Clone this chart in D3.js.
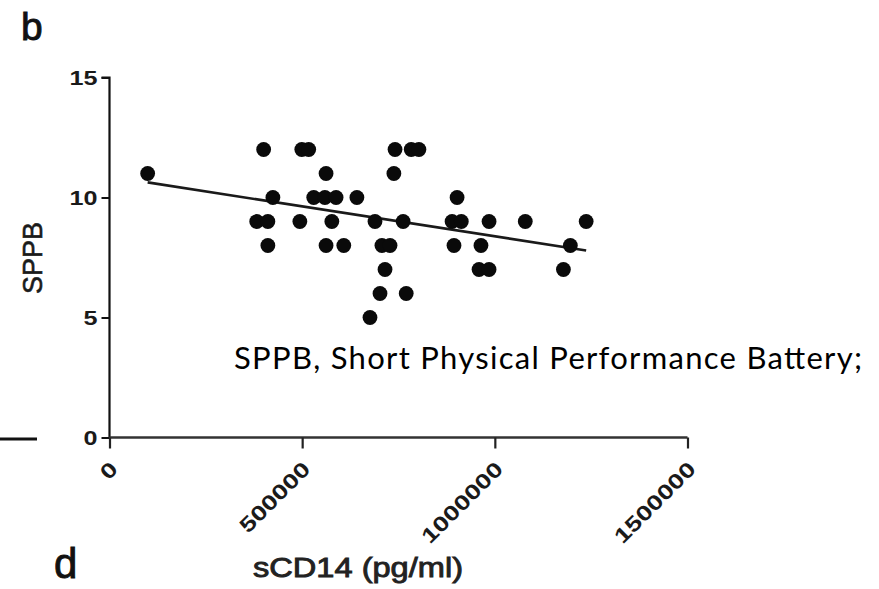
<!DOCTYPE html>
<html>
<head>
<meta charset="utf-8">
<script src="https://cdn.jsdelivr.net/npm/d3@7/dist/d3.min.js"></script>
<style>
  html, body { margin: 0; padding: 0; background: #fff; }
  svg { display: block; }
</style>
</head>
<body>
<svg id="chart" width="879" height="589"></svg>
<script>
// sCD14 concentration (pg/ml) and SPPB score for each participant
const sCD14 = [99000, 400000, 499000, 517000, 741000, 783000, 803000, 562000, 738000,
  424000, 530000, 559000, 588000, 642000, 902000,
  382000, 411000, 494000, 577000, 689000, 762000, 889000, 913000, 985000, 1079000, 1237000,
  411000, 562000, 608000, 707000, 728000, 894000, 964000, 1196000,
  715000, 959000, 985000, 1178000,
  702000, 770000,
  676000];
const sppb = [11, 12, 12, 12, 12, 12, 12, 11, 11,
  10, 10, 10, 10, 10, 10,
  9, 9, 9, 9, 9, 9, 9, 9, 9, 9, 9,
  8, 8, 8, 8, 8, 8, 8, 8,
  7, 7, 7, 7,
  6, 6,
  5];
const xTicks = [0, 500000, 1000000, 1500000];
const yTicks = [0, 5, 10, 15];

const svg = d3.select("#chart");
const sansFont = "'Liberation Sans', Arial, Helvetica, sans-serif";

const x = d3.scaleLinear().domain([0, 1500000]).range([109.5, 687.5]);
const y = d3.scaleLinear().domain([0, 15]).range([437.5, 77.5]);

// fragment of the neighbouring panel's axis
svg.append("line")
  .attr("x1", 0).attr("x2", 37).attr("y1", 439).attr("y2", 439)
  .attr("stroke", "#111").attr("stroke-width", 3);

// panel letters
svg.append("text").attr("x", 21).attr("y", 40).text("b")
  .attr("font-family", sansFont).attr("font-size", 39)
  .attr("fill", "#111").attr("stroke", "#111").attr("stroke-width", 0.9);
svg.append("text").attr("x", 54).attr("y", 578).text("d")
  .attr("font-family", sansFont).attr("font-size", 42)
  .attr("fill", "#111").attr("stroke", "#111").attr("stroke-width", 0.9);

// y axis
const yAxis = svg.append("g")
  .attr("transform", `translate(${x(0)},0)`)
  .call(d3.axisLeft(y).tickValues(yTicks).tickSize(8).tickPadding(4).tickFormat(d3.format("d")));
yAxis.select(".domain").attr("stroke", "#111").attr("stroke-width", 2.2)
  .attr("d", `M-8,${y(15)}H0V${y(0)}`);
yAxis.selectAll(".tick line").attr("stroke", "#111").attr("stroke-width", 2);
yAxis.selectAll(".tick text")
  .attr("font-family", sansFont).attr("font-size", 21).attr("font-weight", "bold")
  .attr("fill", "#1a1a1a")
  .attr("textLength", d => String(d).length * 14)
  .attr("lengthAdjust", "spacingAndGlyphs");

// x axis
const xAxis = svg.append("g")
  .attr("transform", `translate(0,${y(0)})`)
  .call(d3.axisBottom(x).tickValues(xTicks).tickSize(11).tickFormat(d3.format("d")));
xAxis.select(".domain").attr("stroke", "#333").attr("stroke-width", 2.6)
  .attr("d", `M${x(0)},0H${x(1500000)}`);
xAxis.selectAll(".tick line").attr("stroke", "#222").attr("stroke-width", 2.2);
xAxis.selectAll(".tick text")
  .attr("font-family", sansFont).attr("font-size", 21).attr("font-weight", "bold")
  .attr("fill", "#1a1a1a")
  .attr("text-anchor", "end")
  .attr("y", 0).attr("dy", 0)
  .attr("transform", "translate(9,33) rotate(-45)")
  .attr("textLength", d => String(d).length * 15)
  .attr("lengthAdjust", "spacingAndGlyphs");

// axis titles
svg.append("text")
  .attr("transform", "translate(42,258) rotate(-90)")
  .attr("text-anchor", "middle")
  .attr("font-family", sansFont).attr("font-size", 27)
  .attr("fill", "#1a1a1a").attr("stroke", "#1a1a1a").attr("stroke-width", 0.6)
  .text("SPPB");
svg.append("text")
  .attr("x", 253).attr("y", 577)
  .attr("font-family", sansFont).attr("font-size", 28)
  .attr("fill", "#222").attr("stroke", "#222").attr("stroke-width", 0.9)
  .attr("textLength", 210).attr("lengthAdjust", "spacingAndGlyphs")
  .text("sCD14 (pg/ml)");

// least-squares fit line over the observed sCD14 range
const n = sCD14.length;
const mx = d3.mean(sCD14), my = d3.mean(sppb);
let sxy = 0, sxx = 0;
for (let i = 0; i < n; i++) {
  sxy += (sCD14[i] - mx) * (sppb[i] - my);
  sxx += (sCD14[i] - mx) ** 2;
}
const slope = sxy / sxx;
const intercept = my - slope * mx;
const [xmin, xmax] = d3.extent(sCD14);
svg.append("line")
  .attr("x1", x(xmin)).attr("y1", y(intercept + slope * xmin))
  .attr("x2", x(xmax)).attr("y2", y(intercept + slope * xmax))
  .attr("stroke", "#1a1a1a").attr("stroke-width", 2.6);

// participants
svg.append("g").selectAll("circle")
  .data(d3.range(n))
  .join("circle")
  .attr("cx", i => x(sCD14[i]))
  .attr("cy", i => y(sppb[i]))
  .attr("r", 7.4)
  .attr("fill", "#0a0a0a");

// abbreviation note
svg.append("text")
  .attr("x", 234).attr("y", 369)
  .attr("font-family", "Lato, 'Open Sans', sans-serif").attr("font-size", 31)
  .attr("fill", "#000")
  .attr("textLength", 628)
  .text("SPPB, Short Physical Performance Battery;");
</script>
</body>
</html>
